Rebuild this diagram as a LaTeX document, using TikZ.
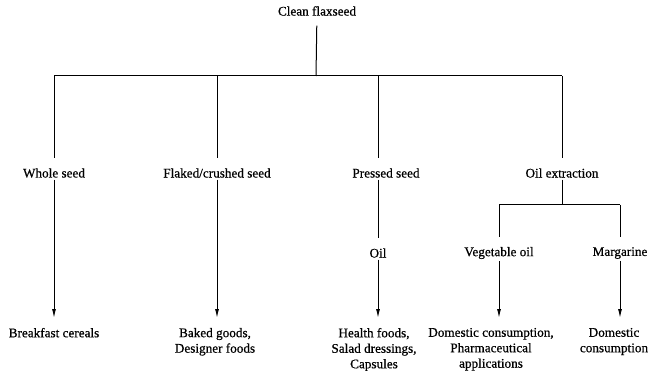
\documentclass[tikz,border=0pt]{standalone}
\usepackage{fontspec}
\setmainfont{Liberation Serif}
\newfontfamily\inkfont[FakeBold=0.6]{Liberation Serif}
\usetikzlibrary{positioning,arrows.meta}

\begin{document}
\begin{tikzpicture}[x=1pt, y=-1pt, line width=1pt,
    lbl/.style={font=\inkfont\fontsize{13.2}{15.5}\selectfont, align=center, inner sep=0pt, outer sep=2pt},
    into/.style={shorten >=8pt},
    flow/.style={-{Latex[length=9pt,width=4pt]}, shorten >=8pt}]

\useasboundingbox (0,0) rectangle (652,371);

% source and first split
\node[lbl] (clean) at (317, 11) {Clean flaxseed};
\coordinate (hub) at (316, 76);

\node[lbl] (whole)  at (54, 173)  {Whole seed};
\node[lbl] (flaked) at (217, 173) {Flaked/crushed seed};
\node[lbl] (pressed) at (386, 173) {Pressed seed};
\node[lbl] (oilx)   at (562, 173) {Oil extraction};

\draw[shorten <=8pt] (clean) -- (hub);
\draw (hub -| whole) -- (hub -| oilx);
\draw[into] (hub -| whole) -- (whole);
\draw[into] (hub -| flaked) -- (flaked);
\draw[into] (hub -| oilx) -- (oilx);

% second level
\node[lbl] (oil)  at (378, 253) {Oil};
\node[lbl] (veg)  at (499, 253) {Vegetable oil};
\node[lbl] (marg) at (620, 253) {Margarine};

\draw[into] (oil |- hub) -- (oil |- pressed.north);
\draw[into] (oil |- pressed.south) -- (oil);

\coordinate (sub) at (562, 205);
\draw (oilx) -- (sub);
\draw (sub -| veg) -- (sub -| marg);
\draw[into] (sub -| veg) -- (veg);
\draw[into] (sub -| marg) -- (marg);

% end uses
\node[lbl, anchor=north] (cereal) at (54, 326)  {Breakfast cereals};
\node[lbl, anchor=north] (baked)  at (215, 326) {Baked goods,\\Designer foods};
\node[lbl, anchor=north] (health) at (374, 326) {Health foods,\\Salad dressings,\\Capsules};
\node[lbl, anchor=north] (domc)   at (491, 326) {Domestic consumption,\\Pharmaceutical\\applications};
\node[lbl, anchor=north] (domm)   at (614, 326) {Domestic\\consumption};

\draw[flow] (whole) -- (whole |- cereal.north);
\draw[flow] (flaked) -- (flaked |- baked.north);
\draw[flow] (oil) -- (oil |- health.north);
\draw[flow] (veg) -- (veg |- domc.north);
\draw[flow] (marg) -- (marg |- domm.north);

\end{tikzpicture}
\end{document}
